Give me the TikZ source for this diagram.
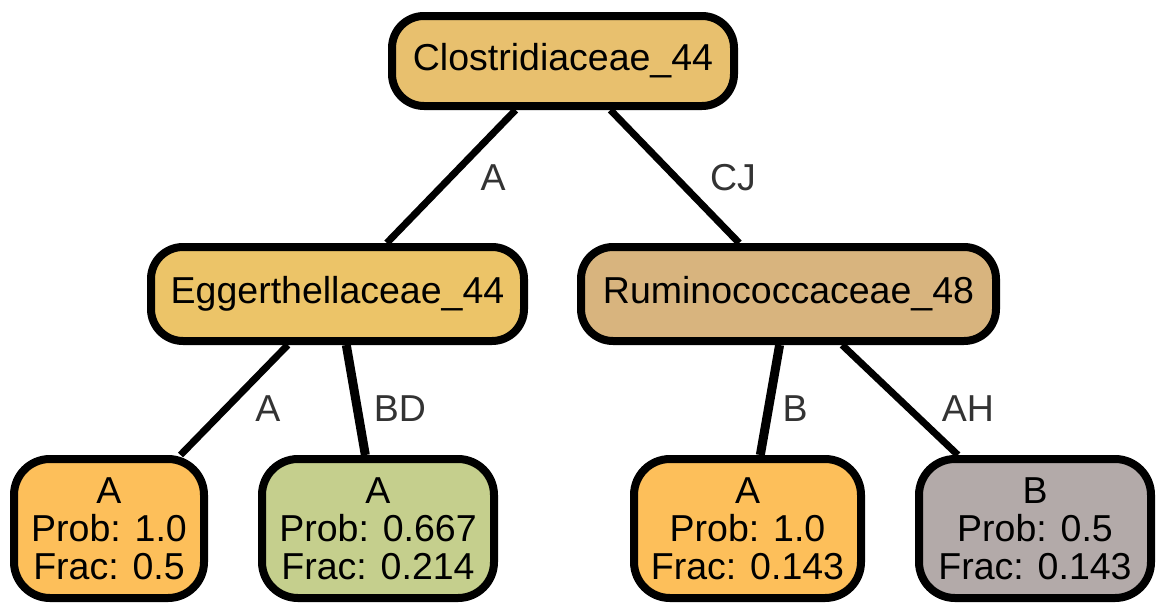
\documentclass[tikz,border=0pt]{standalone}
\usepackage{fontspec}
\setmainfont{Liberation Sans}
\definecolor{clostr}{HTML}{E8C06E}
\definecolor{egger}{HTML}{ECC468}
\definecolor{rumino}{HTML}{D8B47E}
\definecolor{leafA}{HTML}{FDBF5A}
\definecolor{leafAB}{HTML}{C5CF8D}
\definecolor{leafB}{HTML}{B3AAA9}
\definecolor{labgray}{HTML}{333333}
\tikzset{
  taxon/.style = {shape=rectangle, rounded corners=32pt,
                  draw, line width=8pt, align=center,
                  minimum height=94pt, inner sep=0pt,
                  font=\fontsize{37.5}{38}\selectfont},
  leaf/.style  = {taxon, rounded corners=36pt, minimum height=139pt},
  branch/.style = {draw, line width=7pt},
  heavy/.style  = {branch, line width=9pt},
  elabel/.style = {text=labgray, font=\fontsize{37.5}{38}\selectfont}
}
\begin{document}
\begin{tikzpicture}[x=1pt, y=-1pt]
  \useasboundingbox (0,0) rectangle (1164,613);

\node[taxon, fill=clostr, minimum width=342pt, minimum height=90pt] (root) at (563,61) {Clostridiaceae\_44};
\node[taxon, fill=egger, minimum width=373pt] (egg) at (337.5,294) {Eggerthellaceae\_44};
\node[taxon, fill=rumino, minimum width=415pt] (rum) at (788.5,294) {Ruminococcaceae\_48};

\node[leaf, fill=leafA, minimum width=190pt] (l1) at (109,528.5) {A\\Prob: 1.0\\Frac: 0.5};
\node[leaf, fill=leafAB, minimum width=232pt] (l2) at (378,528.5) {A\\Prob: 0.667\\Frac: 0.214};
\node[leaf, fill=leafA, minimum width=227pt] (l3) at (747.5,528.5) {A\\Prob: 1.0\\Frac: 0.143};
\node[leaf, fill=leafB, minimum width=232pt] (l4) at (1035,528.5) {B\\Prob: 0.5\\Frac: 0.143};

\draw[branch] (root) -- (egg);
\draw[branch] (root) -- (rum);
\draw[branch] (egg) -- (l1);
\draw[heavy] (egg) -- (l2);
\draw[heavy] (rum) -- (l3);
\draw[branch] (rum) -- (l4);

\node[elabel] (ea) at (493,178) {A};
\node[elabel] (ecj) at (733,178) {CJ};
\node[elabel] (eb1) at (268,409) {A};
\node[elabel] (ebd) at (400,409) {BD};
\node[elabel] (eb) at (795,409) {B};
\node[elabel] (eah) at (968,409) {AH};

\end{tikzpicture}
\end{document}
